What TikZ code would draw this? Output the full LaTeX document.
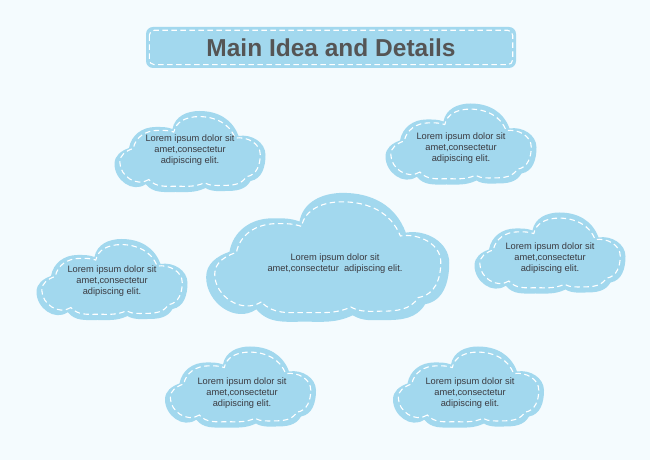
\documentclass[tikz,border=0pt]{standalone}
\usepackage{fontspec}
\setmainfont{Liberation Sans}
\usetikzlibrary{positioning}
\definecolor{skyblaa}{HTML}{A2D8EE}
\definecolor{baggrund}{HTML}{F4FBFE}
\definecolor{skrift}{HTML}{3A3A40}
\definecolor{titelgraa}{HTML}{555555}
\newcommand{\skyomrids}{(-44.8,-33.2) to[out=215,in=270,looseness=1.1] (-76,-13) to[out=90,in=200] (-61.5,3)
    to[out=80,in=180] (-35,24) to[out=0,in=160] (-18,22)
    to[out=80,in=180] (9,40) to[out=0,in=110] (48,15)
    to[out=10,in=90] (75,-4) to[out=270,in=10] (60,-30)
    to[out=240,in=0] (35,-40) to[out=180,in=330] (15,-37)
    to[out=205,in=0] (-15,-41) to[out=180,in=310] cycle}
\tikzset{
    stiplet/.style={
           draw=white, line width=1.1pt,
           dash pattern=on 5.5pt off 3.5pt},
    tekst/.style={
           text=skrift,
           font=\fontsize{9.3}{11}\selectfont,
           align=center,
           inner sep=0pt},
    titel/.style={
           fill=skyblaa,
           rounded corners=7pt,
           minimum width=370pt,
           minimum height=41pt,
           text=titelgraa,
           font=\fontsize{24.5}{28}\selectfont\bfseries},
    pics/sky/.style={
           code={
             \fill[skyblaa] \skyomrids;
             \draw[stiplet, xscale=0.93, yscale=0.86] \skyomrids;
           }}
}

\begin{document}
\begin{tikzpicture}[x=1pt, y=1pt]
        \fill[baggrund] (0,0) rectangle (650,460);
        \useasboundingbox (0,0) rectangle (650,460);

        % overskrift
        \node[titel] (overskrift) at (331,412.5) {Main Idea and Details};
        \draw[stiplet, rounded corners=5pt] ([shift={(3.5,-3.5)}]overskrift.north west) rectangle ([shift={(-3.5,3.5)}]overskrift.south east);

        % skyer
        \pic at (190.5,309) {sky};
        \pic at (461.5,316.5) {sky};
        \pic at (112.5,181) {sky};
        \pic at (550.5,207.5) {sky};
        \pic at (241,73.5) {sky};
        \pic at (469,73.5) {sky};
        \pic[xscale=1.61, yscale=1.59] at (328.5,203.5) {sky};

        \node[tekst] (venstreop) at (190,310) {Lorem ipsum dolor sit\\amet,consectetur\\adipiscing elit.};
        \node[tekst] (hoejreop) at (461,312) {Lorem ipsum dolor sit\\amet,consectetur\\adipiscing elit.};
        \node[tekst] (venstre) at (112,179) {Lorem ipsum dolor sit\\amet,consectetur\\adipiscing elit.};
        \node[tekst] (hoejre) at (550,202) {Lorem ipsum dolor sit\\amet,consectetur\\adipiscing elit.};
        \node[tekst] (venstrened) at (242,67) {Lorem ipsum dolor sit\\amet,consectetur\\adipiscing elit.};
        \node[tekst] (hoejrened) at (470,67) {Lorem ipsum dolor sit\\amet,consectetur\\adipiscing elit.};
        \node[tekst] (midte) at (335,196.5) {Lorem ipsum dolor sit\\amet,consectetur\ \ adipiscing elit.};
\end{tikzpicture}
\end{document}
